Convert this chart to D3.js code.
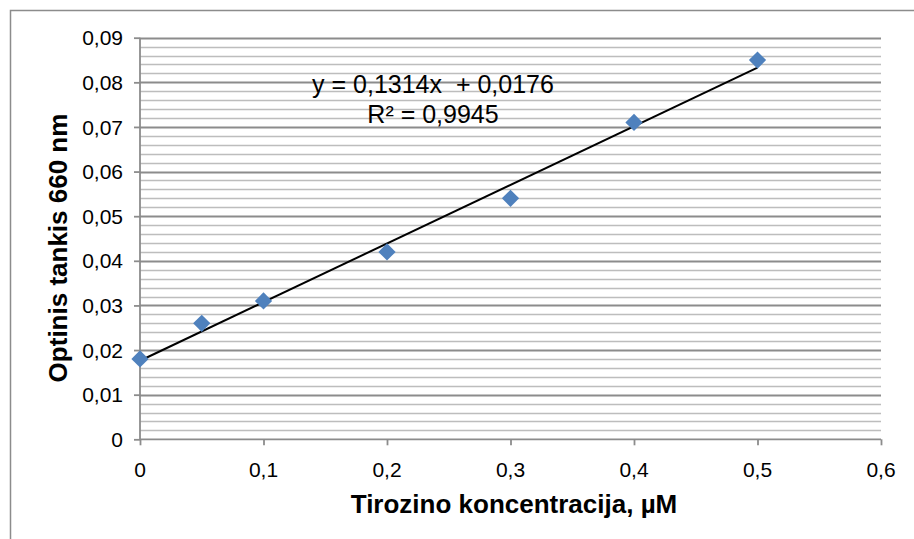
<!DOCTYPE html>
<html>
<head>
<meta charset="utf-8">
<script src="https://cdn.jsdelivr.net/npm/d3@7"></script>
<style>
  html, body { margin: 0; padding: 0; background: #fff; }
  svg { display: block; font-family: "Liberation Sans", Arial, sans-serif; }
</style>
</head>
<body>
<svg id="chart" width="914" height="539"></svg>
<script>
// Tyrosine calibration data
const concentrations = [0, 0.05, 0.1, 0.2, 0.3, 0.4, 0.5];
const absorbance = [0.018, 0.026, 0.031, 0.042, 0.054, 0.071, 0.085];
const slope = 0.1314;
const intercept = 0.0176;
const xTicks = [0, 0.1, 0.2, 0.3, 0.4, 0.5, 0.6];
const yTicks = [0, 0.01, 0.02, 0.03, 0.04, 0.05, 0.06, 0.07, 0.08, 0.09];
const equationText = "y = 0,1314x  + 0,0176";
const r2Text = "R² = 0,9945";
const xTitle = "Tirozino koncentracija, µM";
const yTitle = "Optinis tankis 660 nm";

const svg = d3.select("#chart");
const plotLeft = 140, plotRight = 881, plotTop = 37.7, plotBottom = 439.3;
const labelSize = 21;

const x = d3.scaleLinear().domain([0, 0.6]).range([plotLeft, plotRight]);
const y = d3.scaleLinear().domain([0, 0.09]).range([plotBottom, plotTop]);
const fmt = v => v === 0 ? "0" : d3.format(".2~f")(v).replace(".", ",");

// chart frame
svg.append("rect")
  .attr("x", 10.5).attr("y", 10.5).attr("width", 920).attr("height", 540)
  .attr("fill", "none").attr("stroke", "#8c8c8c").attr("stroke-width", 1.5);

// minor gridlines every 0.002
const minor = d3.range(1, 45).map(i => i * 0.002).filter(v => Math.abs(v * 100 - Math.round(v * 100)) > 1e-6);
svg.append("g").selectAll("line").data(minor).join("line")
  .attr("x1", plotLeft).attr("x2", plotRight)
  .attr("y1", d => Math.round(y(d)) + 0.5).attr("y2", d => Math.round(y(d)) + 0.5)
  .attr("stroke", "#bdbdbd").attr("stroke-width", 1.5);

// major gridlines
svg.append("g").selectAll("line").data(yTicks.slice(1)).join("line")
  .attr("x1", plotLeft).attr("x2", plotRight)
  .attr("y1", d => Math.round(y(d)) + 0.5).attr("y2", d => Math.round(y(d)) + 0.5)
  .attr("stroke", "#8c8c8c").attr("stroke-width", 1.8);

// y axis line and tick marks
const yAxis = svg.append("g").attr("transform", `translate(${plotLeft},0)`)
  .call(d3.axisLeft(y).tickValues(yTicks).tickFormat("").tickSize(6));
yAxis.select(".domain").attr("stroke", "#8c8c8c").attr("stroke-width", 1.8).attr("d", `M0,${plotTop}V${plotBottom}`);
yAxis.selectAll(".tick line").attr("stroke", "#8c8c8c").attr("stroke-width", 1.8);

// y tick labels
svg.append("g").selectAll("text").data(yTicks).join("text")
  .attr("x", plotLeft - 17).attr("y", d => y(d)).attr("dy", "0.36em")
  .attr("text-anchor", "end").attr("font-size", labelSize).attr("fill", "#000")
  .text(fmt);

// x axis line and tick marks
const xAxis = svg.append("g").attr("transform", `translate(0,${plotBottom})`)
  .call(d3.axisBottom(x).tickValues(xTicks).tickFormat("").tickSize(6));
xAxis.select(".domain").attr("stroke", "#8c8c8c").attr("stroke-width", 1.8).attr("d", `M${plotLeft},0H${plotRight}`);
xAxis.selectAll(".tick line").attr("stroke", "#8c8c8c").attr("stroke-width", 1.8);

// x tick labels
svg.append("g").selectAll("text").data(xTicks).join("text")
  .attr("x", d => x(d)).attr("y", plotBottom + 38)
  .attr("text-anchor", "middle").attr("font-size", labelSize).attr("fill", "#000")
  .text(fmt);

// linear trendline
const xs = [d3.min(concentrations), d3.max(concentrations)];
svg.append("line")
  .attr("x1", x(xs[0])).attr("y1", y(slope * xs[0] + intercept))
  .attr("x2", x(xs[1])).attr("y2", y(slope * xs[1] + intercept))
  .attr("stroke", "#000").attr("stroke-width", 2);

// data markers
const diamond = d3.symbol().type(d3.symbolDiamond2).size(190);
svg.append("g").selectAll("path").data(concentrations).join("path")
  .attr("transform", (d, i) => `translate(${x(d)},${y(absorbance[i])})`)
  .attr("d", diamond)
  .attr("fill", "#4f81bd");

// equation labels
svg.append("text").attr("x", 433).attr("y", 93).attr("text-anchor", "middle")
  .style("white-space", "pre").attr("font-size", 25).text(equationText);
svg.append("text").attr("x", 433).attr("y", 123).attr("text-anchor", "middle")
  .attr("font-size", 25).text(r2Text);

// axis titles
svg.append("text").attr("x", 514).attr("y", 513).attr("text-anchor", "middle")
  .attr("font-size", 26).attr("font-weight", "bold").text(xTitle);
svg.append("text").attr("transform", `translate(67,248) rotate(-90)`)
  .attr("text-anchor", "middle").attr("font-size", 26).attr("font-weight", "bold").text(yTitle);
</script>
</body>
</html>
